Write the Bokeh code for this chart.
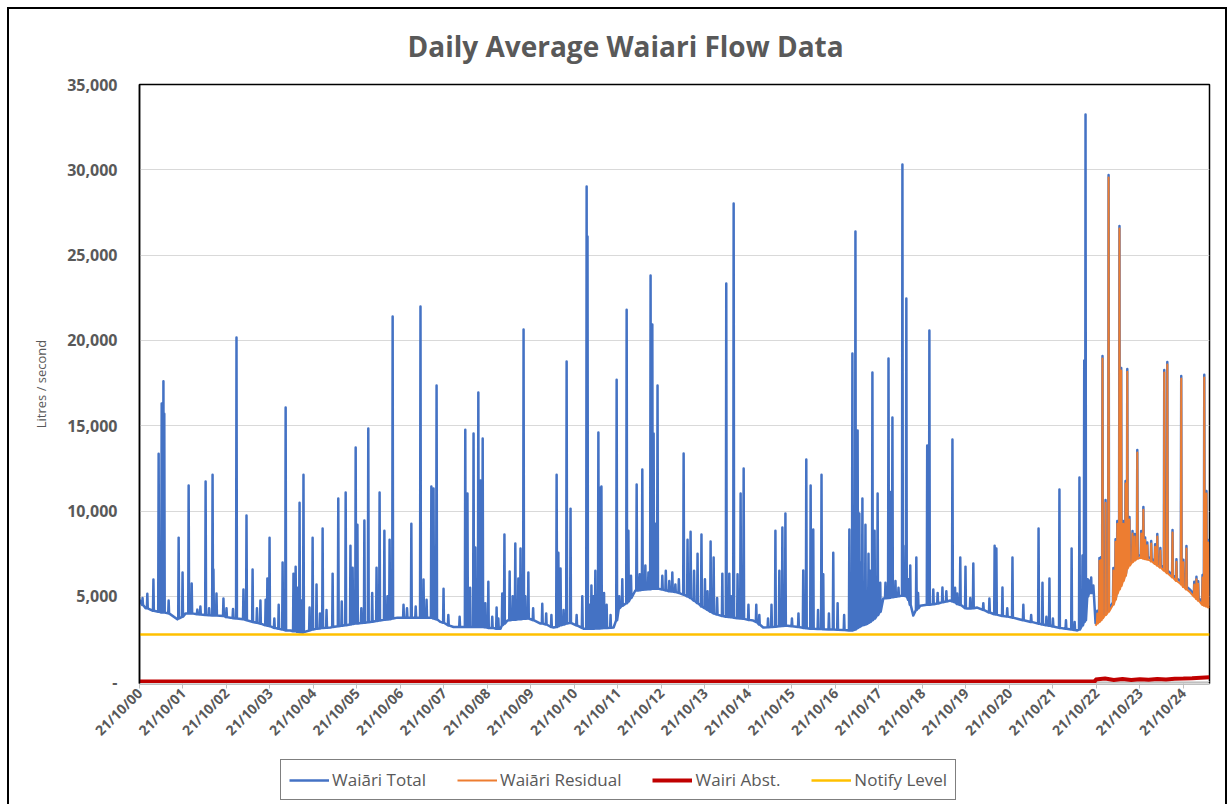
import math
from bokeh.plotting import figure
from bokeh.layouts import column
from bokeh.models import Range1d, FixedTicker, Legend, LegendItem
from bokeh.embed import file_html
from bokeh.resources import INLINE

# ---------------- data (x in axis-label units: tick k = label k) ----------------
title_text = "Daily Average Waiari Flow Data"
y_label = "Litres / second"

x_tick_labels = ["21/10/00", "21/10/01", "21/10/02", "21/10/03", "21/10/04", "21/10/05",
                 "21/10/06", "21/10/07", "21/10/08", "21/10/09", "21/10/10", "21/10/11",
                 "21/10/12", "21/10/13", "21/10/14", "21/10/15", "21/10/16", "21/10/17",
                 "21/10/18", "21/10/19", "21/10/20", "21/10/21", "21/10/22", "21/10/23",
                 "21/10/24"]
y_tick_values = [0, 5000, 10000, 15000, 20000, 25000, 30000, 35000]
y_tick_labels = ["-", "5,000", "10,000", "15,000", "20,000", "25,000", "30,000", "35,000"]

series_names = ["Waiāri Total", "Waiāri Residual", "Wairi Abst.", "Notify Level"]

# Waiāri Total: time, local base flow, peak flow (main events)
total_t = [0.00, 0.07, 0.14, 0.18, 0.32, 0.44, 0.51, 0.55, 0.57, 0.67, 0.87, 0.90, 0.99, 1.06, 1.13,
           1.20, 1.33, 1.52, 1.68, 1.70, 1.77, 1.93, 2.09, 2.23, 2.39, 2.46, 2.60, 2.78, 2.90, 2.94,
           2.99, 3.29, 3.36, 3.47, 3.54, 3.59, 3.68, 3.72, 3.75, 3.77, 3.91, 3.98, 4.07, 4.21, 4.39,
           4.44, 4.57, 4.74, 4.85, 4.90, 4.97, 5.01, 5.15, 5.17, 5.26, 5.45, 5.52, 5.63, 5.75, 5.82,
           5.93, 6.07, 6.25, 6.46, 6.53, 6.71, 6.76, 6.83, 6.92, 6.99, 7.22, 7.36, 7.49, 7.54, 7.68,
           7.72, 7.79, 7.84, 7.89, 8.02, 8.11, 8.21, 8.30, 8.34, 8.39, 8.46, 8.51, 8.64, 8.71, 8.76,
           8.83, 8.87, 8.94, 9.22, 9.26, 9.47, 9.52, 9.59, 9.63, 9.68, 9.82, 9.91, 10.18, 10.21, 10.28,
           10.30, 10.39, 10.44, 10.55, 10.57, 10.62, 10.74, 10.90, 10.97, 11.03, 11.20, 11.24, 11.40, 11.43, 11.45,
           11.56, 11.63, 11.75, 11.79, 11.82, 11.86, 11.91, 12.02, 12.18, 12.32, 12.44, 12.51, 12.60, 12.67, 12.83,
           12.90, 12.92, 13.06, 13.13, 13.20, 13.36, 13.40, 13.49, 13.56, 13.66, 13.75, 13.82, 13.89, 14.11, 14.18,
           14.34, 14.53, 14.62, 14.71, 14.78, 14.85, 14.90, 15.26, 15.33, 15.43, 15.49, 15.68, 15.72, 15.95, 16.05,
           16.32, 16.39, 16.46, 16.51, 16.55, 16.62, 16.69, 16.74, 16.76, 16.85, 16.90, 16.97, 17.03, 17.10, 17.22,
           17.26, 17.31, 17.45, 17.54, 17.56, 17.63, 17.72, 17.79, 17.86, 17.95, 18.11, 18.16, 18.46, 18.64, 18.69,
           18.80, 18.87, 18.99, 19.03, 19.17, 19.26, 19.54, 19.66, 19.70, 19.79, 19.84, 20.07, 20.18, 20.32, 20.67,
           20.76, 20.92, 21.15, 21.43, 21.56, 21.61, 21.68, 21.72, 21.75, 21.84, 21.93, 21.98, 22.02, 22.07, 22.11,
           22.14, 22.21, 22.25, 22.28, 22.39, 22.48, 22.53, 22.57, 22.62, 22.67, 22.71, 22.83, 22.94, 23.01, 23.03,
           23.08, 23.17, 23.24, 23.26, 23.47, 23.56, 23.63, 23.70, 23.75, 23.84, 23.93, 23.95, 24.07, 24.16, 24.34,
           24.39, 24.44, 24.48, 24.53, 24.57, 24.60]
total_base = [4800, 4500, 4300, 4300, 4150, 4100, 4050, 4050, 4050, 4000, 3650, 3700, 3800, 4000, 4000,
              4000, 3950, 3900, 3880, 3880, 3870, 3850, 3750, 3700, 3650, 3600, 3500, 3400, 3300, 3280,
              3250, 3050, 3000, 3000, 2950, 2950, 2900, 2880, 2850, 2900, 3000, 3050, 3100, 3150, 3170,
              3200, 3250, 3300, 3350, 3380, 3400, 3400, 3450, 3450, 3480, 3550, 3580, 3620, 3650, 3700,
              3750, 3750, 3750, 3750, 3750, 3750, 3700, 3650, 3500, 3450, 3200, 3200, 3200, 3200, 3200,
              3200, 3200, 3200, 3200, 3150, 3150, 3100, 3100, 3300, 3400, 3580, 3600, 3630, 3650, 3660,
              3680, 3690, 3700, 3400, 3400, 3200, 3170, 3200, 3250, 3300, 3400, 3450, 3150, 3100, 3100,
              3100, 3100, 3100, 3120, 3120, 3130, 3150, 3170, 3600, 4300, 4600, 4700, 5340, 5340, 5340,
              5380, 5400, 5420, 5440, 5450, 5450, 5450, 5400, 5300, 5250, 5160, 5100, 5000, 4900, 4600,
              4450, 4400, 4200, 4100, 4000, 3870, 3850, 3800, 3780, 3750, 3720, 3700, 3680, 3580, 3500,
              3170, 3200, 3220, 3240, 3260, 3270, 3280, 3150, 3130, 3100, 3100, 3080, 3070, 3050, 3040,
              3000, 3000, 3050, 3150, 3200, 3300, 3350, 3400, 3450, 3600, 3700, 3900, 4100, 4870, 4900,
              4920, 4950, 5000, 5040, 5040, 5000, 4500, 3870, 4200, 4450, 4500, 4500, 4650, 4750, 4700,
              4550, 4500, 4300, 4280, 4300, 4340, 4050, 3950, 3930, 3870, 3850, 3750, 3690, 3600, 3400,
              3350, 3280, 3150, 3050, 3000, 3050, 3300, 3500, 3600, 5200, 5200, 3430, 3550, 3650, 3750,
              3850, 4050, 4150, 4250, 4650, 5310, 5550, 5750, 6050, 6350, 6780, 7150, 7350, 7420, 7400,
              7350, 7300, 7240, 7200, 6830, 6650, 6500, 6360, 6250, 6050, 5890, 5850, 5550, 5370, 4900,
              4780, 4650, 4600, 4550, 4500, 4550]
total_peak = [4800, 4900, 4300, 5150, 5980, 13360, 16300, 17600, 15700, 4750, 3650, 8440, 6400, 4000, 11500,
              5750, 4220, 11730, 12130, 6570, 5160, 4870, 3750, 20170, 5400, 9730, 6570, 4750, 4800, 6040,
              8440, 6980, 16070, 3000, 6330, 6740, 10490, 4750, 2850, 12130, 4340, 8440, 5690, 8970, 3170,
              6330, 10730, 11080, 7970, 6680, 13720, 9200, 3450, 9440, 14830, 6680, 11080, 8850, 8320, 21400,
              3750, 4500, 9260, 21990, 5980, 11440, 11320, 17360, 3500, 5450, 3200, 3800, 14770, 11020, 14540,
              7860, 16950, 11790, 14250, 5860, 3800, 4340, 3100, 5160, 8620, 3580, 6450, 8090, 6040, 7800,
              20640, 5000, 6390, 3400, 4570, 3900, 3170, 12130, 7560, 6630, 18760, 10140, 5000, 3100, 29020,
              26090, 5630, 5000, 14600, 11380, 11440, 4500, 3170, 17700, 5000, 21800, 8850, 5340, 11550, 6100,
              12430, 6800, 23800, 20930, 14540, 9260, 17360, 6200, 5900, 5700, 5160, 13370, 8320, 8790, 7500,
              4450, 8620, 5300, 8210, 7270, 3870, 6330, 23340, 6330, 28020, 6300, 11020, 12490, 3580, 4500,
              3170, 4500, 8850, 6500, 9030, 9850, 3280, 6510, 13020, 11490, 8910, 12130, 6300, 7560, 4600,
              8910, 19230, 26380, 14720, 9850, 10730, 9200, 3400, 7500, 18120, 8850, 11020, 5800, 4870, 18940,
              11110, 15480, 5500, 30310, 7970, 22460, 6800, 3870, 7270, 4450, 13840, 20580, 5510, 4750, 14190,
              5160, 7270, 6740, 4280, 6920, 4340, 4870, 7970, 7800, 3870, 5510, 7270, 3690, 4510, 8970,
              5800, 6040, 11260, 7800, 3000, 11960, 7390, 18820, 33240, 5920, 5630, 3430, 4150, 7240, 7300,
              19090, 10640, 4150, 29700, 6660, 9410, 26710, 18380, 9410, 11760, 18320, 8830, 13580, 7420, 8830,
              10230, 8150, 7240, 8240, 7830, 18270, 18740, 6360, 8890, 7180, 5890, 17920, 7950, 5370, 5890,
              4780, 6250, 17980, 11170, 8300, 4550]

# Waiāri Total: smaller day-to-day fluctuations
small_t = [1.40, 1.60, 2.00, 2.15, 2.70, 3.10, 3.20, 3.63, 4.15, 4.30, 4.65, 5.10, 5.35, 5.70, 6.15,
           6.35, 6.60, 7.10, 7.60, 7.95, 8.25, 8.58, 9.05, 9.35, 9.75, 10.05, 10.35, 10.48, 10.68, 10.83,
           11.10, 11.30, 11.50, 11.70, 12.10, 12.25, 12.40, 12.75, 13.00, 13.28, 13.60, 14.00, 14.25, 14.45,
           15.00, 15.15, 15.60, 15.85, 16.20, 16.58, 16.65, 16.80, 17.15, 17.38, 17.68, 17.90, 18.25, 18.35,
           18.55, 18.75, 19.10, 19.40, 19.95, 20.50, 20.85, 21.00, 21.30, 21.50, 21.80, 21.88,
           22.44, 22.76, 22.88, 23.12, 23.35, 23.40, 24.00, 24.25, 24.30]
small_base = [3930, 3890, 3780, 3720, 3450, 3150, 3100, 2920, 3120, 3160, 3270, 3430, 3510, 3640, 3750,
              3750, 3750, 3300, 3200, 3180, 3100, 3620, 3600, 3350, 3350, 3300, 3100, 3110, 3140, 3160,
              4450, 4900, 5360, 5410, 5350, 5280, 5200, 4750, 4300, 3930, 3770, 3620, 3350, 3190,
              3250, 3200, 3090, 3060, 3020, 3250, 3320, 3500, 4880, 4970, 4800, 4300, 4530, 4580,
              4700, 4650, 4290, 4200, 3810, 3500, 3300, 3230, 3100, 3020, 5000, 5200,
              4950, 6950, 7250, 7330, 7050, 6950, 5700, 5130, 5000]
small_peak = [4400, 4300, 4300, 4250, 4300, 3700, 4500, 5500, 4000, 4200, 4700, 4300, 5200, 5000, 4300,
              4400, 4800, 3900, 5500, 4600, 3700, 5000, 4300, 4000, 4200, 3900, 4500, 6500, 5200, 3900,
              6000, 6200, 6300, 6400, 6500, 6400, 6000, 6500, 6000, 4900, 5000, 4500, 3900, 3700,
              3700, 4000, 4200, 4000, 3900, 7000, 5500, 6500, 5800, 5900, 6000, 5200, 5400, 5200,
              5300, 5500, 4900, 4600, 4300, 3900, 3800, 3700, 3600, 3500, 6000, 6100,
              8350, 9650, 8650, 8450, 8050, 8650, 7150, 5850, 6150]

# Waiāri Residual (from the start of abstraction)
resid_t = [21.98, 22.02, 22.07, 22.11, 22.14, 22.21, 22.25, 22.28, 22.39, 22.44, 22.48, 22.53, 22.57, 22.62,
           22.67, 22.71, 22.76, 22.83, 22.88, 22.94, 23.01, 23.03, 23.08, 23.12, 23.17, 23.24, 23.26, 23.35,
           23.40, 23.47, 23.56, 23.63, 23.70, 23.75, 23.84, 23.93, 23.95, 24.00, 24.07, 24.16, 24.25, 24.30,
           24.34, 24.39, 24.44, 24.48, 24.53, 24.57, 24.60]
resid_base = [3280, 3400, 3500, 3600, 3700, 3900, 4000, 4100, 4500, 4800, 5160, 5400, 5600, 5900,
              6200, 6630, 6800, 7000, 7100, 7200, 7270, 7250, 7200, 7180, 7150, 7090, 7050, 6900,
              6800, 6680, 6500, 6350, 6210, 6100, 5900, 5740, 5700, 5550, 5400, 5220, 4980, 4850,
              4750, 4630, 4500, 4450, 4400, 4350, 4400]
resid_peak = [3280, 4000, 7090, 7150, 18940, 10490, 4000, 29550, 6510, 8200, 9260, 26560, 18230, 9260,
              11610, 18170, 9500, 8680, 8500, 13430, 7270, 8680, 10080, 8300, 8000, 7090, 8090, 7900,
              8500, 7680, 18120, 18590, 6210, 8740, 7030, 5740, 17770, 7000, 7800, 5220, 5700, 6000,
              5740, 4630, 6100, 17830, 11020, 8150, 4400]

# Wairi Abst.
abst_t = [0.0, 21.97, 21.98, 22.2, 22.4, 22.6, 22.8, 23.0, 23.2, 23.4, 23.6, 23.8, 24.0, 24.2, 24.4, 24.6]
abst_v = [0, 0, 120, 180, 100, 150, 90, 140, 110, 160, 130, 170, 180, 200, 230, 260]

# Notify Level
notify_t = [0.0, 24.6]
notify_v = [2760, 2760]


def spike_path(t, base, peak, w=0.01):
    rows = sorted(zip(t, base, peak))
    xs, ys = [], []
    for ti, b, pk in rows:
        if pk > b:
            xs += [ti - w, ti, ti + w]
            ys += [b, pk, b]
        else:
            xs.append(ti)
            ys.append(b)
    return xs, ys


# ---------------- styles ----------------
FONT = "Open Sans"
GREY = "#595959"
STYLES = [dict(line_color="#4472C4", line_width=2.5),
          dict(line_color="#ED7D31", line_width=2.0),
          dict(line_color="#C00000", line_width=4),
          dict(line_color="#FFC000", line_width=2.5)]
SIDE_BORDERS = {"margin-left": "7px", "border-left": "2px solid #000000",
                "border-right": "2px solid #000000"}

# ---------------- main chart ----------------
p = figure(width=1220, height=746, x_range=Range1d(0, 24.6), y_range=Range1d(-110, 35000),
           output_backend="svg", toolbar_location=None,
           min_border_left=130, min_border_right=20, min_border_top=75, min_border_bottom=72,
           background_fill_color="white", border_fill_color="white",
           styles=dict(SIDE_BORDERS, **{"margin-top": "7px", "border-top": "2px solid #000000"}))

tx, ty = spike_path(total_t + small_t, total_base + small_base, total_peak + small_peak)
p.line(tx, ty, line_join="round", **STYLES[0])
rx, ry = spike_path(resid_t, resid_base, resid_peak)
p.line(rx, ry, line_join="round", **STYLES[1])
p.line(abst_t, abst_v, **STYLES[2])
p.line(notify_t, notify_v, **STYLES[3])

p.title.text = title_text
p.title.align = "left"
p.title.offset = 268
p.title.vertical_align = "top"
p.title.text_font = FONT
p.title.text_font_style = "bold"
p.title.text_font_size = "28px"
p.title.text_color = GREY
p.title.standoff = 35

p.xaxis.ticker = FixedTicker(ticks=list(range(len(x_tick_labels))))
p.xaxis.major_label_overrides = {i: lab for i, lab in enumerate(x_tick_labels)}
p.xaxis.major_label_orientation = math.pi / 4
p.xaxis.major_label_text_font = FONT
p.xaxis.major_label_text_font_style = "bold"
p.xaxis.major_label_text_font_size = "14px"
p.xaxis.major_label_text_color = GREY
p.xaxis.major_label_standoff = 2
p.xaxis.major_tick_out = 5
p.xaxis.major_tick_in = 0
p.xaxis.major_tick_line_color = "#BFBFBF"
p.xaxis.minor_tick_line_color = None
p.xaxis.axis_line_color = "#D9D9D9"

p.yaxis.ticker = FixedTicker(ticks=y_tick_values)
p.yaxis.major_label_overrides = {v: lab for v, lab in zip(y_tick_values, y_tick_labels)}
p.yaxis.major_label_text_font = FONT
p.yaxis.major_label_text_font_style = "bold"
p.yaxis.major_label_text_font_size = "16px"
p.yaxis.major_label_text_color = GREY
p.yaxis.major_label_standoff = 22
p.yaxis.major_tick_out = 0
p.yaxis.major_tick_in = 0
p.yaxis.minor_tick_line_color = None
p.yaxis.axis_line_color = "#000000"
p.yaxis.axis_line_width = 1.5
p.yaxis.axis_label = y_label
p.yaxis.axis_label_text_font = FONT
p.yaxis.axis_label_text_font_style = "normal"
p.yaxis.axis_label_text_font_size = "13px"
p.yaxis.axis_label_text_color = GREY
p.yaxis.axis_label_standoff = 14

p.xgrid.visible = False
p.ygrid.grid_line_color = "#D9D9D9"
p.ygrid.grid_line_width = 1
p.outline_line_color = "#000000"
p.outline_line_width = 1.5

# ---------------- legend strip (continues the chart area below the axis) ----------------
lg = figure(width=1220, height=51, x_range=Range1d(0, 1), y_range=Range1d(0, 1),
            output_backend="svg", toolbar_location=None, title=None,
            x_axis_type=None, y_axis_type=None,
            min_border_left=0, min_border_right=0, min_border_top=0, min_border_bottom=0,
            background_fill_color="white", border_fill_color="white", styles=SIDE_BORDERS)
lg.outline_line_color = None
# legend swatches: lines kept outside the strip's visible range
swatches = [lg.line([5, 6], [5, 6], **st) for st in STYLES]
legend = Legend(items=[LegendItem(label=name, renderers=[r]) for name, r in zip(series_names, swatches)],
                location=(141, 4), orientation="horizontal",
                label_text_font=FONT, label_text_font_size="17px", label_text_color=GREY,
                glyph_width=40, glyph_height=20, label_standoff=3, spacing=31,
                padding=8, margin=0, border_line_color="#000000", border_line_width=1.5,
                background_fill_color="white", background_fill_alpha=1.0)
lg.add_layout(legend, "center")

layout = column(p, lg, spacing=0)
open("out.html", "w").write(file_html(layout, INLINE))
